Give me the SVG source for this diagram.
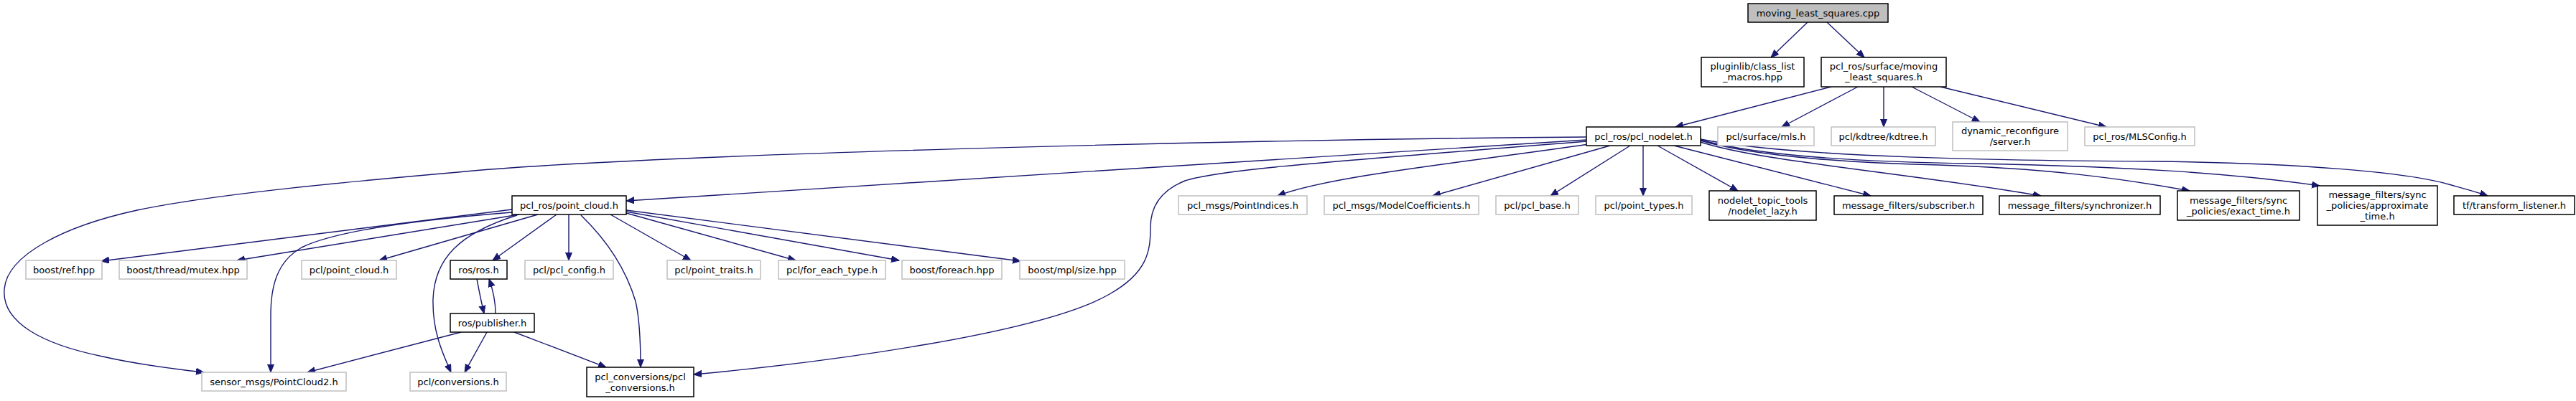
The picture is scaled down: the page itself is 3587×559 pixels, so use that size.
<svg xmlns="http://www.w3.org/2000/svg" width="3587" height="559" viewBox="0 0 3587 559">
<style>
.doc{fill:#ffffff;stroke:#000000;stroke-width:1.5}
.und{fill:#ffffff;stroke:#bfbfbf;stroke-width:1.5}
.root{fill:#bfbfbf;stroke:#000000;stroke-width:1.5}
text{font-family:"DejaVu Sans","Liberation Sans",sans-serif;font-size:13px;fill:#000000;text-anchor:middle}
.e{fill:none;stroke:#191970;stroke-width:1.4;marker-end:url(#arr)}
</style>
<defs>
<marker id="arr" markerWidth="12" markerHeight="10" refX="11" refY="4.5" orient="auto" markerUnits="userSpaceOnUse">
<path d="M0,0 L11,4.5 L0,9 z" fill="#191970" stroke="#191970" stroke-width="1"/>
</marker>
</defs>
<rect x="0" y="0" width="3587" height="559" fill="#ffffff"/>
<g id="edges">
<path class="e" d="M2517,31 L2466,80"/>
<path class="e" d="M2544,31 L2596,80"/>
<path class="e" d="M2550,121 L2333,177"/>
<path class="e" d="M2587,121 L2481,177"/>
<path class="e" d="M2623,121 L2623,177"/>
<path class="e" d="M2662,121 L2757,170"/>
<path class="e" d="M2702,121 L2933,177"/>
<path class="e" d="M2209,191 C1700,195 900,215 638,240 C500,252 300,270 191,293 C90,315 10,355 6,403 C2,450 60,480 143,497 C200,510 250,515 284,519"/>
<path class="e" d="M2209,195 L872,280"/>
<path class="e" d="M2209,197 C1900,222 1700,235 1650,252 C1610,268 1602,295 1602,317 C1602,350 1598,380 1545,410 C1450,465 1150,505 966,522"/>
<path class="e" d="M2212,201 C2050,225 1850,245 1779,273"/>
<path class="e" d="M2242,203 L1995,273"/>
<path class="e" d="M2270,203 L2159,273"/>
<path class="e" d="M2288,203 L2288,273"/>
<path class="e" d="M2308,203 L2420,266"/>
<path class="e" d="M2331,203 L2605,273"/>
<path class="e" d="M2368,198 C2450,225 2650,240 2842,273"/>
<path class="e" d="M2368,196 C2450,220 2600,228 2700,230 C2850,235 2950,248 3049,266"/>
<path class="e" d="M2368,195 C2450,218 2600,226 2750,228 C2950,232 3100,240 3230,259"/>
<path class="e" d="M2368,194 C2500,220 2800,224 3000,225 C3200,227 3350,240 3410,257 C3435,264 3450,268 3464,273"/>
<path class="e" d="M713,292 L141,364"/>
<path class="e" d="M723,299 L330,363"/>
<path class="e" d="M749,299 L528,363"/>
<path class="e" d="M775,299 L686,363"/>
<path class="e" d="M792,299 L792,363"/>
<path class="e" d="M850,299 L962,363"/>
<path class="e" d="M872,297 L1108,363"/>
<path class="e" d="M872,295 L1252,363"/>
<path class="e" d="M872,293 L1421,364"/>
<path class="e" d="M713,296 C600,305 470,320 420,345 C385,365 377,400 377,440 L377,519"/>
<path class="e" d="M720,300 C640,325 605,360 603,417 C602,460 615,490 628,519"/>
<path class="e" d="M809,300 C840,330 870,370 885,420 C892,450 892,490 892,512"/>
<path class="e" d="M664,389 C667,405 670,420 674,437"/>
<path class="e" d="M690,437 C690,420 686,403 681,389"/>
<path class="e" d="M642,463 L428,519"/>
<path class="e" d="M678,463 L647,519"/>
<path class="e" d="M716,463 L844,512"/>
</g>
<g id="n0"><rect class="root" x="2434" y="5" width="195" height="26"/><text x="2531.5" y="22.5">moving_least_squares.cpp</text></g>
<g id="n1"><rect class="doc" x="2369" y="80" width="143" height="41"/><text x="2440.5" y="97">pluginlib/class_list</text><text x="2440.5" y="112">_macros.hpp</text></g>
<g id="n2"><rect class="doc" x="2536" y="80" width="174" height="41"/><text x="2623" y="97">pcl_ros/surface/moving</text><text x="2623" y="112">_least_squares.h</text></g>
<g id="n3"><rect class="doc" x="2209" y="177" width="159" height="26"/><text x="2288.5" y="194.5">pcl_ros/pcl_nodelet.h</text></g>
<g id="n4"><rect class="und" x="2392" y="177" width="134" height="26"/><text x="2459" y="194.5">pcl/surface/mls.h</text></g>
<g id="n5"><rect class="und" x="2550" y="177" width="145" height="26"/><text x="2622.5" y="194.5">pcl/kdtree/kdtree.h</text></g>
<g id="n6"><rect class="und" x="2719" y="170" width="160" height="40"/><text x="2799" y="186.5">dynamic_reconfigure</text><text x="2799" y="201.5">/server.h</text></g>
<g id="n7"><rect class="und" x="2903" y="177" width="153" height="26"/><text x="2979.5" y="194.5">pcl_ros/MLSConfig.h</text></g>
<g id="n8"><rect class="doc" x="713" y="273" width="159" height="26"/><text x="792.5" y="290.5">pcl_ros/point_cloud.h</text></g>
<g id="n9"><rect class="und" x="1641" y="273" width="179" height="26"/><text x="1730.5" y="290.5">pcl_msgs/PointIndices.h</text></g>
<g id="n10"><rect class="und" x="1844" y="273" width="215" height="26"/><text x="1951.5" y="290.5">pcl_msgs/ModelCoefficients.h</text></g>
<g id="n11"><rect class="und" x="2083" y="273" width="115" height="26"/><text x="2140.5" y="290.5">pcl/pcl_base.h</text></g>
<g id="n12"><rect class="und" x="2222" y="273" width="134" height="26"/><text x="2289" y="290.5">pcl/point_types.h</text></g>
<g id="n13"><rect class="doc" x="2380" y="266" width="149" height="41"/><text x="2454.5" y="283.5">nodelet_topic_tools</text><text x="2454.5" y="298.5">/nodelet_lazy.h</text></g>
<g id="n14"><rect class="doc" x="2554" y="273" width="207" height="26"/><text x="2657.5" y="290.5">message_filters/subscriber.h</text></g>
<g id="n15"><rect class="doc" x="2784" y="273" width="224" height="26"/><text x="2896" y="290.5">message_filters/synchronizer.h</text></g>
<g id="n16"><rect class="doc" x="3032" y="266" width="170" height="41"/><text x="3117" y="283.5">message_filters/sync</text><text x="3117" y="298.5">_policies/exact_time.h</text></g>
<g id="n17"><rect class="doc" x="3227" y="259" width="167" height="55"/><text x="3310.5" y="276">message_filters/sync</text><text x="3310.5" y="291">_policies/approximate</text><text x="3310.5" y="306">_time.h</text></g>
<g id="n18"><rect class="doc" x="3417" y="273" width="168" height="26"/><text x="3501" y="290.5">tf/transform_listener.h</text></g>
<g id="n19"><rect class="und" x="36" y="363" width="106" height="26"/><text x="89" y="380.5">boost/ref.hpp</text></g>
<g id="n20"><rect class="und" x="166" y="363" width="178" height="26"/><text x="255" y="380.5">boost/thread/mutex.hpp</text></g>
<g id="n21"><rect class="und" x="420" y="363" width="132" height="26"/><text x="486" y="380.5">pcl/point_cloud.h</text></g>
<g id="n22"><rect class="doc" x="627" y="363" width="79" height="26"/><text x="666.5" y="380.5">ros/ros.h</text></g>
<g id="n23"><rect class="und" x="731" y="363" width="123" height="26"/><text x="792.5" y="380.5">pcl/pcl_config.h</text></g>
<g id="n24"><rect class="und" x="929" y="363" width="130" height="26"/><text x="994" y="380.5">pcl/point_traits.h</text></g>
<g id="n25"><rect class="und" x="1084" y="363" width="149" height="26"/><text x="1158.5" y="380.5">pcl/for_each_type.h</text></g>
<g id="n26"><rect class="und" x="1256" y="363" width="139" height="26"/><text x="1325.5" y="380.5">boost/foreach.hpp</text></g>
<g id="n27"><rect class="und" x="1420" y="363" width="146" height="26"/><text x="1493" y="380.5">boost/mpl/size.hpp</text></g>
<g id="n28"><rect class="doc" x="627" y="437" width="117" height="26"/><text x="685.5" y="454.5">ros/publisher.h</text></g>
<g id="n29"><rect class="und" x="281" y="519" width="201" height="26"/><text x="381.5" y="536.5">sensor_msgs/PointCloud2.h</text></g>
<g id="n30"><rect class="und" x="571" y="519" width="134" height="26"/><text x="638" y="536.5">pcl/conversions.h</text></g>
<g id="n31"><rect class="doc" x="817" y="512" width="149" height="41"/><text x="891.5" y="529.5">pcl_conversions/pcl</text><text x="891.5" y="544.5">_conversions.h</text></g>
</svg>
